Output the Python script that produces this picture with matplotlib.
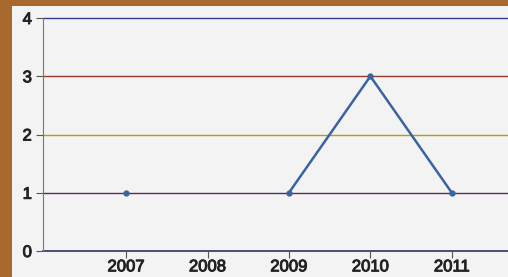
import numpy as np
import matplotlib.pyplot as plt
import matplotlib.patheffects as pe
from matplotlib.patches import Rectangle

years = [2007, 2008, 2009, 2010, 2011]
values = [1, np.nan, 1, 3, 1]
y_ticks = [0, 1, 2, 3, 4]
grid_colors = ['#3a4070', '#5a2a5a', '#b8a000', '#9a3a2a', '#3a3a8a']

fig = plt.figure(figsize=(5.08, 2.77), dpi=100)
fig.patch.set_facecolor('#a86a2c')
# white card behind the chart
fig.patches.append(Rectangle((12 / 508, 0), 1, 1 - 6 / 277, transform=fig.transFigure,
                             facecolor='#f3f3f3', edgecolor='none', zorder=-1))

ax = fig.add_axes([43 / 508, 1 - 251 / 277, 1 - 43 / 508, (251 - 18) / 277])
ax.set_zorder(1)
ax.set_facecolor('#f3f3f3')

for y, c in zip(y_ticks, grid_colors):
    ax.axhline(y, color=c, linewidth=1.3 if y == 0 else 1.0, zorder=1, clip_on=False)

ax.plot(years, values, color='#3a64a0', linewidth=1.8, marker='o', markersize=3.5, zorder=3)

ax.set_xlim(2005.98, 2011.69)
ax.set_ylim(0, 4)
ax.set_xticks(years)
ax.set_yticks(y_ticks)

for s in ['top', 'right', 'bottom']:
    ax.spines[s].set_visible(False)
ax.spines['left'].set_color('#777777')
ax.tick_params(axis='both', length=5, color='#555555', labelsize=12, labelcolor='#222222')
ax.tick_params(axis='x', pad=1)
ax.tick_params(axis='y', pad=3)
# scanned labels look heavier than regular weight
for lab in ax.get_xticklabels() + ax.get_yticklabels():
    lab.set_fontfamily('Liberation Sans')
    lab.set_path_effects([pe.withStroke(linewidth=0.7, foreground='#222222')])

fig.savefig('out.png', dpi=100, facecolor=fig.get_facecolor())
